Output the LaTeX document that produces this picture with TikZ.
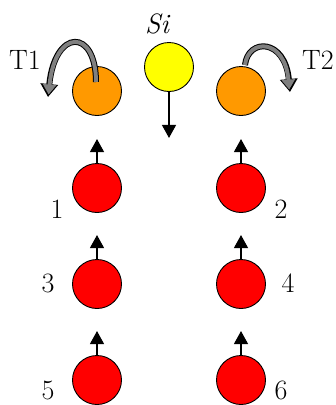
\documentclass[tikz,border=0pt]{standalone}
\usepackage{fontspec}
\usetikzlibrary{arrows.meta}
\definecolor{siyellow}{RGB}{255,255,0}
\definecolor{torange}{RGB}{255,153,0}
\begin{document}
\begin{tikzpicture}[x=1pt,y=-1pt,
    ball/.style={circle,draw,line width=0.9pt,minimum size=49pt,inner sep=0pt},
    spin/.style={line width=1.3pt,-{Triangle[width=14pt,length=13pt]}},
    hopout/.style={line width=6pt,-{Triangle[width=17pt,length=13pt]}},
    hopin/.style={line width=4pt,color=gray,-{Triangle[width=13pt,length=10pt]}},
    lbl/.style={font=\fontsize{28}{30}\selectfont,inner sep=0pt}]
      \useasboundingbox (0,0) rectangle (336,405);
      \fill[white](0,0)rectangle(336,405);
      % sites
      \node[ball,fill=siyellow](Si) at (169,67){};
      \node[ball,fill=torange](T1) at (97,91){};
      \node[ball,fill=torange](T2) at (241,91){};
      \foreach \x/\y/\i in{97/188/1, 241/188/2, 97/284/3, 241/284/4, 97/380/5, 241/380/6}{
        \node[ball,fill=red](N\i) at (\x,\y){};
        \path (N\i.north) ++(0,-24) coordinate (S\i);
        \draw[spin](N\i.north)--(S\i);
      }
      \path (Si.south) ++(0,46) coordinate (Sdown);
      \draw[spin](Si.south)--(Sdown);
      % labels
      \node[lbl](LSi) at (157,24){\itshape Si};
      \node[lbl](LT1) at (25,60){T1};
      \node[lbl](LT2) at (318,60){T2};
      \foreach \x/\y/\i in{57/209/1, 281/209/2, 48/283/3, 288/283/4, 48/390/5, 281/390/6}{
        \node[lbl](L\i) at (\x,\y){\i};
      }
      % hops
      \coordinate (H1) at (48,97);
      \coordinate (H2) at (290,92);
      \coordinate (H1in) at (48.6,94.5);
      \coordinate (H2in) at (289.2,89.6);
      \draw[hopout](96,82) .. controls (96,28) and (55,28) .. (H1);
      \draw[hopin](96,82) .. controls (96,28) and (55,28) .. (H1in);
      \draw[hopout](245,65) .. controls (248,38) and (285,38) .. (H2);
      \draw[hopin](245,65) .. controls (248,38) and (285,38) .. (H2in);
    \end{tikzpicture}
\end{document}
